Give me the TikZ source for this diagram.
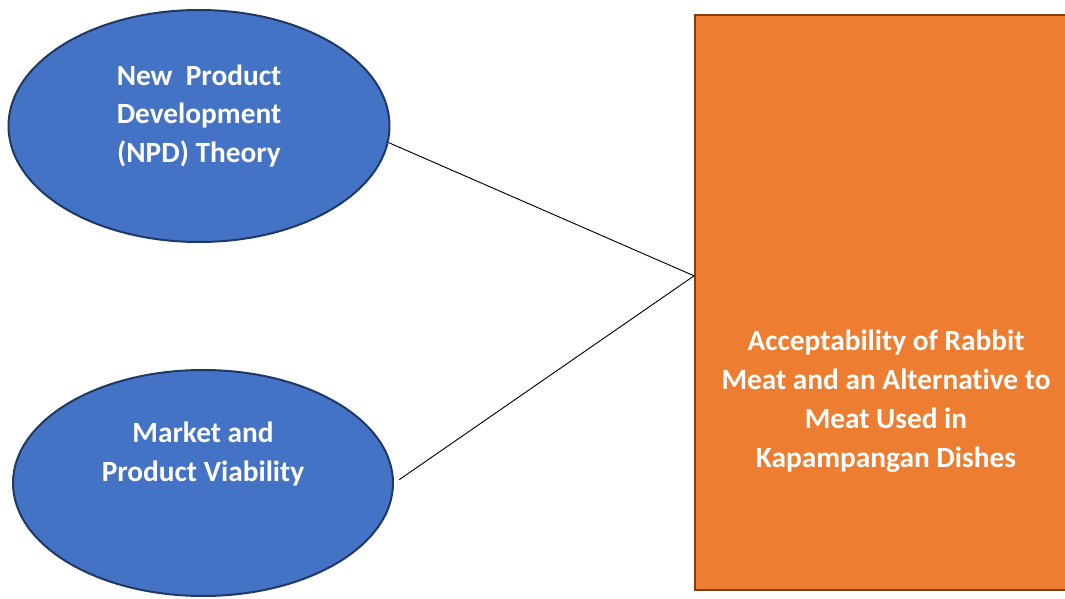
\documentclass[tikz,border=0pt]{standalone}
\usepackage{fontspec}
\setmainfont{Carlito}[Ligatures=NoCommon]
\usepackage{xcolor}
\usetikzlibrary{positioning, shapes.geometric, calc}

\definecolor{theoryblue}{HTML}{4472C4}
\definecolor{theoryedge}{HTML}{1F3864}
\definecolor{outcomeorange}{HTML}{ED7D31}
\definecolor{outcomeedge}{HTML}{843C0C}

\begin{document}
\begin{tikzpicture}[
        % 1 unit = 1 px of the 1065x599 frame
        x=0.75pt, y=-0.75pt,
        theory/.style={draw=theoryedge, fill=theoryblue, ellipse,
                       line width=1.5pt, inner sep=0pt},
        outcome/.style={draw=outcomeedge, fill=outcomeorange,
                        line width=1.4pt, inner sep=0pt,
                        minimum width=286.5pt, minimum height=431.25pt},
        boxtext/.style={text=white, font=\bfseries\fontsize{22}{29.2}\selectfont,
                        align=center},
        link/.style={black, line width=0.7pt}
    ]

    % --- Frame ---
    \useasboundingbox (0,0) rectangle (1065,599);
    \clip (0,0) rectangle (1065,599);

    % --- Theories ---
    \node[theory, minimum width=285.75pt, minimum height=174pt] (npd) at (199,126) {};
    \node[theory, minimum width=285pt, minimum height=169.5pt] (mpv) at (203,483) {};

    \node[boxtext] (npdtxt) at ([yshift=7.5pt]npd.center) {New\ \ Product\\Development\\(NPD) Theory};
    \node[boxtext] (mpvtxt) at ([yshift=21.75pt]mpv.center) {Market and\\Product Viability};

    % --- Outcome ---
    \node[outcome] (acc) at (886,302.5) {};
    \node[boxtext] (acctxt) at ([yshift=-74pt]acc.center)
        {Acceptability of Rabbit\\Meat and an Alternative to\\Meat Used in\\Kapampangan Dishes};

    \coordinate (hub) at ([yshift=20pt]acc.west);

    % --- Links ---
    \draw[link] (npd.-5) -- (hub);
    \draw[link] ([xshift=4pt]mpv.1) -- (hub);

\end{tikzpicture}
\end{document}
